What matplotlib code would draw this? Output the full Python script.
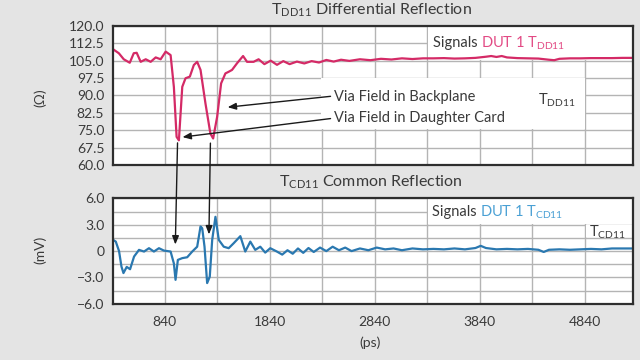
import matplotlib
matplotlib.use("Agg")
import matplotlib.pyplot as plt
from matplotlib.patches import Rectangle, ConnectionPatch

plt.rcParams['font.family'] = ['Lato', 'DejaVu Sans']

# ---------------- data ----------------
top_t = [350, 404, 451, 508, 546, 574, 612, 660, 707, 755, 802, 850, 897, 928, 954,
         976, 1008, 1039, 1080, 1118, 1150, 1182, 1229, 1276, 1302, 1340, 1378, 1419,
         1450, 1482, 1530, 1587, 1625, 1687, 1735, 1790, 1850, 1910, 1970, 2030, 2100,
         2170, 2240, 2310, 2380, 2450, 2520, 2600, 2700, 2800, 2900, 3000, 3100, 3200,
         3300, 3400, 3500, 3600, 3700, 3800, 3900, 3950, 4000, 4050, 4100, 4200, 4300,
         4400, 4500, 4550, 4600, 4700, 4800, 4900, 5000, 5100, 5200, 5300]
top_ohm = [109.9, 108.2, 105.6, 104.1, 108.2, 108.4, 104.5, 105.6, 104.5, 106.4, 105.6,
           108.9, 107.4, 93.7, 72.1, 70.6, 93.7, 97.4, 98.1, 103.1, 104.5, 101.0, 86.5,
           73.5, 71.4, 80.7, 95.2, 99.5, 100.2, 101.0, 103.9, 107.0, 104.5, 104.5, 105.6,
           103.5, 105.0, 103.2, 104.8, 103.5, 104.6, 103.8, 104.8, 104.2, 105.3, 104.6,
           105.4, 104.9, 105.6, 105.2, 105.8, 105.5, 106.0, 105.7, 106.0, 106.0, 106.1,
           105.9, 106.0, 106.2, 106.7, 107.0, 106.6, 107.0, 106.4, 106.1, 106.0, 105.9,
           105.4, 105.2, 105.8, 106.0, 106.0, 106.1, 106.1, 106.1, 106.2, 106.2]

bot_t = [350, 375, 406, 429, 448, 479, 511, 549, 596, 644, 691, 738, 786, 833, 897, 928,
         944, 966, 1008, 1055, 1103, 1150, 1182, 1198, 1220, 1245, 1270, 1293, 1324,
         1356, 1403, 1450, 1498, 1561, 1608, 1656, 1703, 1751, 1798, 1846, 1909, 1960,
         2010, 2060, 2110, 2160, 2210, 2260, 2320, 2380, 2440, 2500, 2560, 2620, 2700,
         2780, 2860, 2940, 3020, 3100, 3200, 3300, 3400, 3500, 3600, 3700, 3800, 3850,
         3900, 4000, 4100, 4200, 4300, 4400, 4450, 4500, 4600, 4700, 4800, 4900, 5000,
         5100, 5200, 5300]
bot_mv = [1.27, 1.08, 0.0, -1.76, -2.5, -1.8, -2.06, -0.62, 0.14, -0.05, 0.33, -0.05,
          0.33, 0.06, -0.05, -1.4, -3.27, -1.0, -0.8, -0.7, -0.05, 0.5, 2.8, 2.6, 0.5,
          -3.64, -2.9, 1.27, 3.9, 1.27, 0.5, 0.33, 0.9, 1.7, -0.05, 1.08, 0.14, 0.5,
          -0.17, 0.33, -0.05, -0.4, 0.1, -0.3, 0.3, -0.2, 0.35, -0.1, 0.4, 0.0, 0.5, 0.1,
          0.4, 0.0, 0.3, 0.1, 0.4, 0.2, 0.3, 0.1, 0.3, 0.2, 0.25, 0.2, 0.3, 0.2, 0.35,
          0.6, 0.35, 0.2, 0.25, 0.2, 0.25, 0.15, -0.1, 0.15, 0.2, 0.15, 0.2, 0.25, 0.2,
          0.3, 0.3, 0.3]

x_grid = [840, 1340, 1840, 2340, 2840, 3340, 3840, 4340, 4840]
x_ticks = [840, 1840, 2840, 3840, 4840]
x_labels = ["840", "1840", "2840", "3840", "4840"]
top_yticks = [60.0, 67.5, 75.0, 82.5, 90.0, 97.5, 105.0, 112.5, 120.0]
top_ylabels = ["60.0", "67.5", "75.0", "82.5", "90.0", "97.5", "105.0", "112.5", "120.0"]
bot_ygrid = [-4.5, -1.5, 1.5, 4.5]
bot_yticks = [-6.0, -3.0, 0.0, 3.0, 6.0]
bot_ylabels = ["\u22126.0", "\u22123.0", "0", "3.0", "6.0"]

# ---------------- style ----------------
BG = '#e4e4e4'
GRID = '#b4b4b4'
TXT = '#3a3a3a'
PINK = '#d42a66'
PINK_T = '#e24a84'
BLUE = '#2a78b0'
BLUE_T = '#4aa0d4'
XMIN, XMAX = 345, 5300

fig = plt.figure(figsize=(6.4, 3.6), dpi=100, facecolor=BG)
ax1 = fig.add_axes([0.176, 0.542, 0.813, 0.386])
ax2 = fig.add_axes([0.176, 0.156, 0.813, 0.293])

def style(ax, ylim, yticks, ylabels, ygrid_extra):
    ax.set_xlim(XMIN, XMAX)
    ax.set_ylim(*ylim)
    ax.set_facecolor('white')
    for x in x_grid:
        ax.axvline(x, color=GRID, lw=1.0, zorder=0.5)
    for y in list(yticks) + list(ygrid_extra):
        ax.axhline(y, color=GRID, lw=1.0, zorder=0.5)
    ax.set_yticks(yticks)
    ax.set_yticklabels(ylabels, fontsize=10, color=TXT)
    ax.tick_params(length=0, pad=6)
    for s in ax.spines.values():
        s.set_color('#2e2e2e')
        s.set_linewidth(1.6)
        s.set_zorder(5)

style(ax1, (60, 120), top_yticks, top_ylabels, [])
style(ax2, (-6, 6), bot_yticks, bot_ylabels, bot_ygrid)
ax1.set_xticks([])
ax2.set_xticks(x_ticks)
ax2.set_xticklabels(x_labels, fontsize=10, color=TXT)
ax2.tick_params(axis='x', pad=9)

# white boxes that hide the grid behind the labels
ax1.add_patch(Rectangle((3350, 105.4), XMAX - 3350, 14.6, facecolor='white', edgecolor='none', zorder=1))
ax1.add_patch(Rectangle((2330, 75.3), 4840 - 2330, 22.0, facecolor='white', edgecolor='none', zorder=1))
ax2.add_patch(Rectangle((3350, 3.05), XMAX - 3350, 2.95, facecolor='white', edgecolor='none', zorder=1))
ax2.add_patch(Rectangle((4850, 1.55), XMAX - 4850, 1.4, facecolor='white', edgecolor='none', zorder=1))

ax1.plot(top_t, top_ohm, color=PINK, lw=1.6, zorder=3)
ax2.plot(bot_t, bot_mv, color=BLUE, lw=1.6, zorder=3)

# titles and axis labels
fig.text(0.58, 0.972, "T$_{\\mathregular{DD11}}$ Differential Reflection", ha='center', va='center',
         fontsize=11.5, color=TXT)
fig.text(0.58, 0.494, "T$_{\\mathregular{CD11}}$ Common Reflection", ha='center', va='center',
         fontsize=11.5, color=TXT)
fig.text(0.063, 0.73, "(\u03a9)", rotation=90, ha='center', va='center', fontsize=10, color=TXT)
fig.text(0.063, 0.305, "(mV)", rotation=90, ha='center', va='center', fontsize=10, color=TXT)
fig.text(0.578, 0.047, "(ps)", ha='center', va='center', fontsize=10, color=TXT)

# legends
t1 = ax1.text(3395, 112.6, "Signals ", fontsize=10.5, color=TXT, va='center', zorder=4)
ax1.annotate("DUT 1 T$_{\\mathregular{DD11}}$", xy=(1, 0.5), xycoords=t1, va='center',
             fontsize=10.5, color=PINK_T, zorder=4)
t2 = ax2.text(3385, 4.45, "Signals ", fontsize=10.5, color=TXT, va='center', zorder=4)
ax2.annotate("DUT 1 T$_{\\mathregular{CD11}}$", xy=(1, 0.5), xycoords=t2, va='center',
             fontsize=10.5, color=BLUE_T, zorder=4)
ax1.text(4400, 88.0, "T$_{\\mathregular{DD11}}$", fontsize=10.5, color=TXT, va='center', zorder=4)
ax2.text(4880, 2.1, "T$_{\\mathregular{CD11}}$", fontsize=10.5, color=TXT, va='center', zorder=4)

# callouts
ax1.text(2450, 89.4, "Via Field in Backplane", fontsize=10.5, color=TXT, va='center', zorder=4)
ax1.text(2450, 80.2, "Via Field in Daughter Card", fontsize=10.5, color=TXT, va='center', zorder=4)
arr = dict(arrowstyle='-|>,head_length=0.5,head_width=0.2', color='#1a1a1a', lw=1.0,
           shrinkA=0, shrinkB=0)
ax1.annotate("", xy=(1440, 84.9), xytext=(2420, 89.6), arrowprops=arr, zorder=4)
ax1.annotate("", xy=(1010, 72.0), xytext=(2420, 80.0), arrowprops=arr, zorder=4)

for (ta, ya, tb, yb) in [(963, 69.5, 942, 0.75), (1276, 69.4, 1262, 1.9)]:
    cp = ConnectionPatch(xyA=(ta, ya), coordsA=ax1.transData, xyB=(tb, yb), coordsB=ax2.transData,
                         arrowstyle='-|>,head_length=0.5,head_width=0.2', color='#1a1a1a', lw=1.0,
                         shrinkA=0, shrinkB=0, zorder=6)
    fig.add_artist(cp)

fig.savefig("out.png", dpi=100, facecolor=BG)
